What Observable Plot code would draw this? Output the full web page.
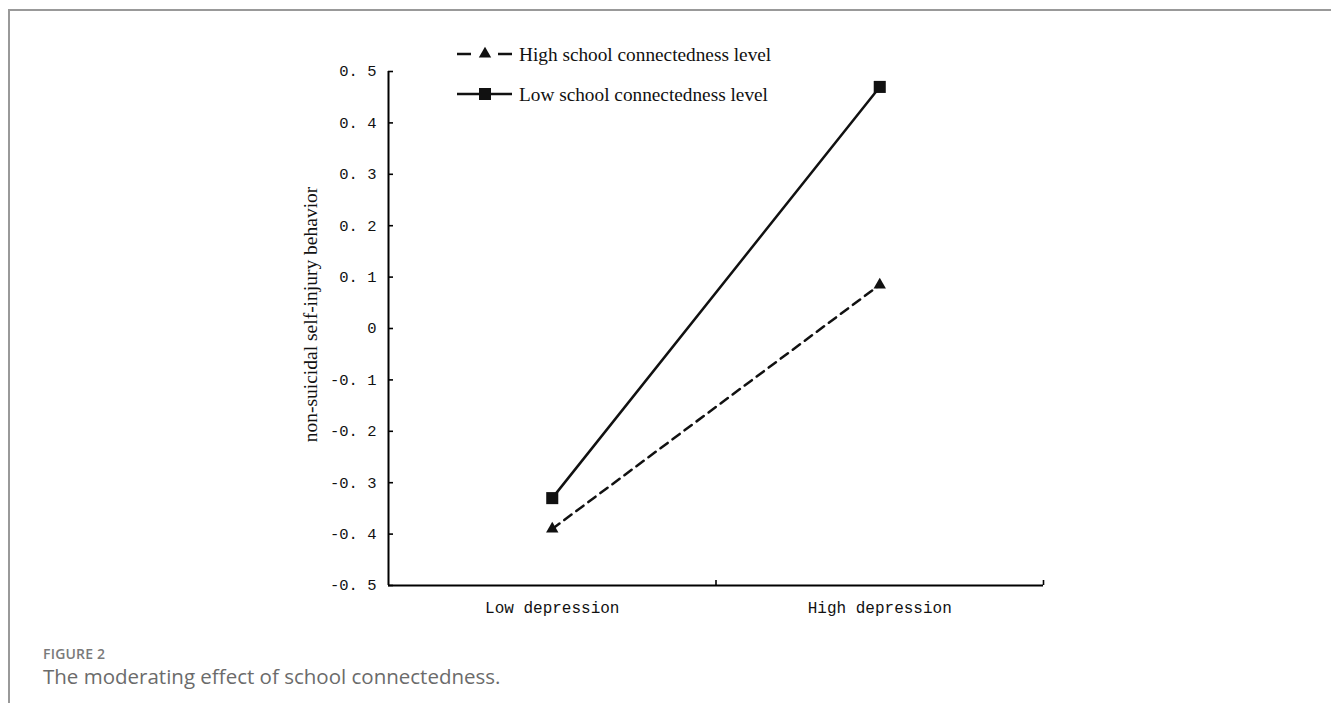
<!DOCTYPE html>
<html>
<head>
<meta charset="utf-8">
<script src="https://cdn.jsdelivr.net/npm/d3@7"></script>
<script src="https://cdn.jsdelivr.net/npm/@observablehq/plot@0.6"></script>
<style>
  html, body { margin: 0; padding: 0; background: #fff; }
  body { width: 1331px; height: 703px; position: relative; overflow: hidden; }
  #frame { position: absolute; left: 8px; top: 9px; right: -10px; bottom: -10px;
           border-left: 2px solid #999; border-top: 2px solid #999; }
  #chart { position: absolute; left: 0; top: 0; }
  #legend { position: absolute; left: 0; top: 0; }
  #caption { position: absolute; left: 43px; top: 644px; font-family: "Open Sans", sans-serif; }
  #caption .fig { font-size: 14px; font-weight: 600; color: #7a7a7a; letter-spacing: 0.2px; }
  #caption .txt { font-size: 20.5px; color: #6b6b6b; margin-top: -1px; }
</style>
</head>
<body>
<div id="frame"></div>
<div id="chart"></div>
<div id="legend"></div>
<div id="caption">
  <div class="fig">FIGURE 2</div>
  <div class="txt">The moderating effect of school connectedness.</div>
</div>
<script>
const categories = ["Low depression", "High depression"];
const highConnectedness = [-0.39, 0.085];
const lowConnectedness = [-0.33, 0.47];
const yTicks = [-0.5, -0.4, -0.3, -0.2, -0.1, 0, 0.1, 0.2, 0.3, 0.4, 0.5];
const seriesNames = ["High school connectedness level", "Low school connectedness level"];
const yLabel = "non-suicidal self-injury behavior";

const pos = (d, i) => i + 0.5;
const boundaries = categories.map((d, i) => i + 1);
const fmtY = v => {
  if (Math.abs(v) < 1e-9) return "0";
  return d3.format(".1f")(v).replace("\u2212", "-").replace(".", ". ");
};

const plot = Plot.plot({
  width: 1331,
  height: 640,
  marginLeft: 388,
  marginRight: 288,
  marginTop: 71,
  marginBottom: 55,
  x: { domain: [0, categories.length] },
  y: { domain: [-0.5, 0.5] },
  style: { background: "transparent", color: "#000" },
  marks: [
    Plot.ruleX([0], { stroke: "#000", strokeWidth: 2 }),
    Plot.ruleY([-0.5], { stroke: "#000", strokeWidth: 2 }),
    Plot.ruleY(yTicks, { x1: 0, x2: 0, insetRight: -5, stroke: "#000", strokeWidth: 1.6 }),
    Plot.ruleX(boundaries, { y1: -0.5, y2: -0.5, insetTop: -5, stroke: "#000", strokeWidth: 1.6 }),
    Plot.axisY({ ticks: yTicks, tickSize: 0, tickPadding: 12, tickFormat: fmtY, label: null,
                 fontSize: 15.5, fontFamily: "Liberation Mono", fill: "#111" }),
    Plot.axisX({ ticks: categories.map(pos), tickSize: 0, tickPadding: 16,
                 tickFormat: d => categories[Math.floor(d)], label: null,
                 fontSize: 16, fontFamily: "Liberation Mono", fill: "#111" }),
    Plot.text([yLabel], { frameAnchor: "left", textAnchor: "middle", rotate: -90, dx: -78, dy: -14,
                 fontSize: 19.5, fontFamily: "Liberation Serif", fill: "#111" }),
    Plot.line(categories, { x: pos, y: (d, i) => lowConnectedness[i], stroke: "#111", strokeWidth: 2.5 }),
    Plot.line(categories, { x: pos, y: (d, i) => highConnectedness[i], stroke: "#111", strokeWidth: 2.5, strokeDasharray: "9,6" }),
    Plot.dot(categories, { x: pos, y: (d, i) => lowConnectedness[i], symbol: "square", r: 6.8, fill: "#111", stroke: "none" }),
    Plot.dot(categories, { x: pos, y: (d, i) => highConnectedness[i], symbol: "triangle", r: 4.6, fill: "#111", stroke: "none" })
  ]
});
document.getElementById("chart").appendChild(plot);

// Legend (HTML-side SVG)
const legend = d3.select("#legend").append("svg").attr("width", 1331).attr("height", 120);
const rows = [
  { name: seriesNames[0], dash: "14,27", sym: d3.symbolTriangle, size: Math.PI * 4.6 * 4.6 },
  { name: seriesNames[1], dash: null, sym: d3.symbolSquare, size: Math.PI * 6.8 * 6.8 }
];
rows.forEach((r, i) => {
  const g = legend.append("g").attr("transform", `translate(457, ${54 + i * 40})`);
  g.append("line").attr("x1", 0).attr("x2", 55).attr("y1", 0).attr("y2", 0)
    .attr("stroke", "#111").attr("stroke-width", 2.5)
    .attr("stroke-dasharray", r.dash);
  g.append("path").attr("d", d3.symbol(r.sym, r.size)()).attr("transform", "translate(28,0)").attr("fill", "#111");
  g.append("text").attr("x", 62).attr("y", 0).attr("dy", "0.35em")
    .attr("font-family", "Liberation Serif").attr("font-size", 19.3).attr("fill", "#111").text(r.name);
});
</script>
</body>
</html>
